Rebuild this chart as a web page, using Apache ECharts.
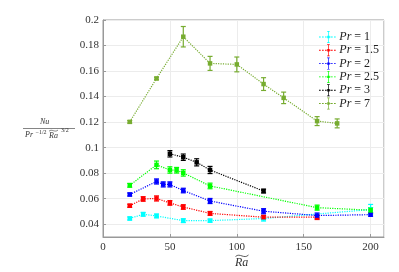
<!DOCTYPE html>
<html><head><meta charset="utf-8">
<script src="https://cdn.jsdelivr.net/npm/echarts@6/dist/echarts.min.js"></script>
<style>html,body{margin:0;padding:0;background:#fff}#c{width:399px;height:272px}</style>
</head><body><div id="c"></div>
<script>
// Data
const prNames = ['Pr = 1', 'Pr = 1.5', 'Pr = 2', 'Pr = 2.5', 'Pr = 3', 'Pr = 7'];
const colors = ['#00FFFF', '#FF0000', '#0000FF', '#00FF00', '#000000', '#77AC30'];

const ra_pr1 = [20, 30, 40, 60, 80, 120, 200];
const nu_pr1 = [0.0445, 0.0478, 0.0465, 0.0428, 0.0428, 0.0445, 0.0515];
const err_pr1 = [0.0012, 0.0015, 0.0015, 0.0015, 0.0012, 0.0020, 0.0040];

const ra_pr15 = [20, 30, 40, 50, 60, 80, 120, 160];
const nu_pr15 = [0.0545, 0.0598, 0.0602, 0.0567, 0.0535, 0.0485, 0.0455, 0.0455];
const err_pr15 = [0.0012, 0.0018, 0.0020, 0.0018, 0.0018, 0.0015, 0.0015, 0.0018];

const ra_pr2 = [20, 40, 45, 50, 60, 80, 120, 160, 200];
const nu_pr2 = [0.0633, 0.0735, 0.0712, 0.0712, 0.0664, 0.0582, 0.0502, 0.0468, 0.0475];
const err_pr2 = [0.0012, 0.0020, 0.0020, 0.0020, 0.0018, 0.0020, 0.0020, 0.0020, 0.0012];

const ra_pr25 = [20, 40, 50, 55, 60, 80, 160, 200];
const nu_pr25 = [0.0705, 0.0865, 0.0825, 0.0823, 0.0802, 0.0700, 0.0530, 0.0510];
const err_pr25 = [0.0015, 0.0030, 0.0025, 0.0022, 0.0025, 0.0022, 0.0020, 0.0020];

const ra_pr3 = [50, 60, 70, 80, 120];
const nu_pr3 = [0.0952, 0.0925, 0.0885, 0.0825, 0.0660];
const err_pr3 = [0.0025, 0.0025, 0.0028, 0.0028, 0.0015];

const ra_pr7 = [20, 40, 60, 80, 100, 120, 135, 160, 175];
const nu_pr7 = [0.1202, 0.1542, 0.1869, 0.1660, 0.1652, 0.1498, 0.1390, 0.1208, 0.1190];
const err_pr7 = [0.0010, 0.0010, 0.0080, 0.0055, 0.0058, 0.0050, 0.0045, 0.0035, 0.0035];

const xTicks = [0, 50, 100, 150, 200];
const yTicks = [0.04, 0.06, 0.08, 0.1, 0.12, 0.14, 0.16, 0.18, 0.2];

const allRa = [ra_pr1, ra_pr15, ra_pr2, ra_pr25, ra_pr3, ra_pr7];
const allNu = [nu_pr1, nu_pr15, nu_pr2, nu_pr25, nu_pr3, nu_pr7];
const allErr = [err_pr1, err_pr15, err_pr2, err_pr25, err_pr3, err_pr7];

const serif = 'Liberation Serif, DejaVu Serif, serif';
const series = [];
prNames.forEach((name, k) => {
  const pts = allRa[k].map((x, i) => [x, allNu[k][i]]);
  const eb = allRa[k].map((x, i) => [x, allNu[k][i] - allErr[k][i], allNu[k][i] + allErr[k][i]]);
  series.push({
    name: name + ' eb', type: 'custom', data: eb, z: 3,
    encode: { x: 0, y: [1, 2] },
    renderItem: (params, api) => {
      const lo = api.coord([api.value(0), api.value(1)]);
      const hi = api.coord([api.value(0), api.value(2)]);
      const cw = 2.5;
      const st = { stroke: colors[k], lineWidth: 1.2 };
      return { type: 'group', children: [
        { type: 'line', shape: { x1: lo[0], y1: lo[1], x2: hi[0], y2: hi[1] }, style: st },
        { type: 'line', shape: { x1: lo[0] - cw, y1: lo[1], x2: lo[0] + cw, y2: lo[1] }, style: st },
        { type: 'line', shape: { x1: hi[0] - cw, y1: hi[1], x2: hi[0] + cw, y2: hi[1] }, style: st }
      ]};
    }
  });
  series.push({
    name: name, type: 'line', data: pts, z: 4,
    symbol: 'rect', symbolSize: 4.5, showSymbol: true,
    itemStyle: { color: colors[k] },
    lineStyle: { color: colors[k], type: 'dotted', width: 1.2 },
    emphasis: { disabled: true }, animation: false
  });
});

const legendIcon = 'path://M0,6.5h2v1h-2z M3.5,6.5h2v1h-2z M7,6.5h2v1h-2z M14,6.5h2v1h-2z M17.5,6.5h2v1h-2z M9.5,0h3v0.8h-3z M9.5,13.2h3v0.8h-3z M10.6,0h0.8v14h-0.8z M9.6,5.6h2.8v2.8h-2.8z M12.5,6.5h1v1h-1z';

const chart = echarts.init(document.getElementById('c'), null, { renderer: 'canvas' });
chart.setOption({
  animation: false,
  backgroundColor: '#fff',
  grid: { left: 103, right: 15, top: 20, bottom: 35, show: true, borderColor: '#999', borderWidth: 1, backgroundColor: 'transparent' },
  xAxis: {
    type: 'value', min: 0, max: 210, interval: 50,
    axisLine: { show: true, lineStyle: { color: '#999' } },
    axisTick: { show: true, inside: true, length: 3, lineStyle: { color: '#999' } },
    axisLabel: { color: '#333', fontFamily: serif, fontSize: 11, margin: 5, showMaxLabel: false },
    splitLine: { show: true, lineStyle: { color: '#ececec' } }
  },
  yAxis: {
    type: 'value', min: 0.03, max: 0.2,
    axisLine: { show: true, lineStyle: { color: '#999' } },
    axisTick: { show: true, inside: true, length: 3, customValues: yTicks, lineStyle: { color: '#999' } },
    axisLabel: { color: '#333', fontFamily: serif, fontSize: 11, margin: 4, customValues: yTicks },
    splitLine: { show: true, lineStyle: { color: '#ececec' } }
  },
  legend: {
    data: prNames, orient: 'vertical', left: 314, top: 26, itemGap: 1.3,
    itemWidth: 20, itemHeight: 12, icon: legendIcon,
    textStyle: { fontFamily: serif, fontSize: 12, color: '#222', padding: [0,0,0,-3],
      rich: { i: { fontFamily: serif, fontStyle: 'italic', fontSize: 12, color: '#222' } } },
    formatter: n => '{i|Pr} = ' + n.split('= ')[1]
  },
  graphic: [
    { type: 'text', left: 40, top: 118, style: { text: 'Nu', font: 'italic 8px ' + serif, fill: '#333' } },
    { type: 'line', shape: { x1: 23, y1: 128.5, x2: 75, y2: 128.5 }, style: { stroke: '#333', lineWidth: 0.6 } },
    { type: 'text', left: 25, top: 131, style: { text: 'Pr', font: 'italic 8px ' + serif, fill: '#333' } },
    { type: 'text', left: 35.5, top: 129, style: { text: '−1/2', font: '6px ' + serif, fill: '#333' } },
    { type: 'text', left: 49, top: 132, style: { text: 'Ra', font: 'italic 8px ' + serif, fill: '#333' } },
    { type: 'bezierCurve', shape: { x1: 49, y1: 131.2, cpx1: 52, cpy1: 128.5, cpx2: 55, cpy2: 133, x2: 58, y2: 130 }, style: { stroke: '#333', lineWidth: 0.6, fill: null } },
    { type: 'text', left: 61, top: 127, style: { text: '3/2', font: '6px ' + serif, fill: '#333' } },
    { type: 'text', left: 235, top: 257, style: { text: 'Ra', font: 'italic 12px ' + serif, fill: '#333' } },
    { type: 'bezierCurve', shape: { x1: 235.5, y1: 256.5, cpx1: 240, cpy1: 252.5, cpx2: 244, cpy2: 259.5, x2: 248.5, y2: 255 }, style: { stroke: '#333', lineWidth: 0.8, fill: null } }
  ],
  series: series
});
</script></body></html>
